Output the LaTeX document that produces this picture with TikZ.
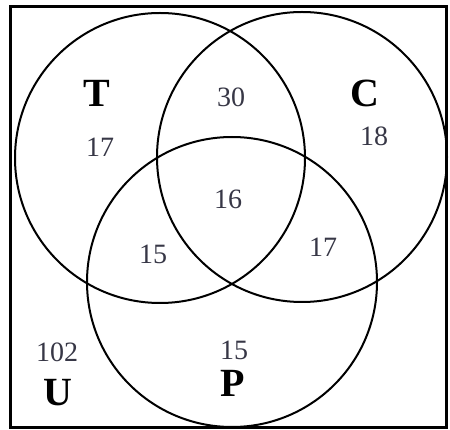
\documentclass[tikz,border=0pt]{standalone}
\usepackage{fontspec}
\setmainfont{Liberation Serif}
\definecolor{numcol}{RGB}{55,55,70}
\begin{document}
\begin{tikzpicture}[x=1pt,y=-1pt,
  setc/.style={circle,draw,line width=2pt,minimum size=290pt,inner sep=0pt},
  num/.style={font=\fontsize{28}{30}\selectfont,text=numcol,inner sep=0pt},
  lab/.style={font=\fontsize{40}{42}\selectfont\bfseries,inner sep=0pt}]
\useasboundingbox (0,0) rectangle (450,430);
\node[draw,line width=3pt,minimum width=436pt,minimum height=420pt,inner sep=0pt] (box) at (228,217) {};
\node[setc] (Tc) at (160,158) {};
\node[setc] (Cc) at (302,157) {};
\node[setc] (Pc) at (232,282) {};
\node[lab] (T) at (97,93) {T};
\node[lab] (C) at (365,93) {C};
\node[lab] (U) at (58,393) {U};
\node[lab] (P) at (233,383) {P};
\node[num] (n17a) at (100,147) {17};
\node[num] (n30) at (231,97) {30};
\node[num] (n18) at (374,136) {18};
\node[num] (n16) at (228,199) {16};
\node[num] (n15a) at (153,254) {15};
\node[num] (n17b) at (323,247) {17};
\node[num] (n102) at (57,352) {102};
\node[num] (n15b) at (234,350) {15};
\end{tikzpicture}
\end{document}
